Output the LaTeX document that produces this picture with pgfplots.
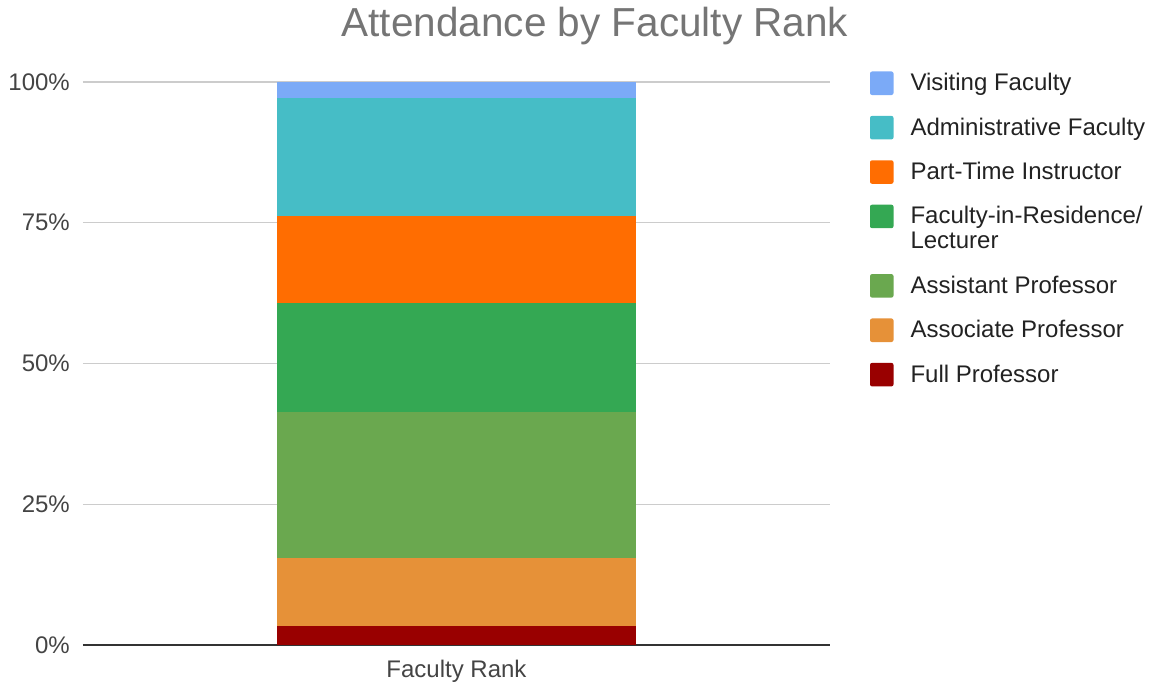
\documentclass[border=0pt]{standalone}
\usepackage{fontspec}
\setmainfont{Liberation Sans}
\usepackage{pgfplots}
\pgfplotsset{compat=1.18}
\usetikzlibrary{calc}
\definecolor{cVis}{HTML}{7BAAF7}
\definecolor{cAdm}{HTML}{46BDC6}
\definecolor{cPT}{HTML}{FF6D01}
\definecolor{cFiR}{HTML}{34A853}
\definecolor{cAsst}{HTML}{6AA84F}
\definecolor{cAssoc}{HTML}{E69138}
\definecolor{cFull}{HTML}{990000}
\definecolor{cGrid}{HTML}{CCCCCC}
\definecolor{cAxis}{HTML}{333333}
\definecolor{cTick}{HTML}{444444}
\definecolor{cLeg}{HTML}{222222}
\definecolor{cTitle}{HTML}{757575}
\begin{document}
\begin{tikzpicture}
\begin{axis}[name=ax, scale only axis, width=747bp, height=563bp,
 ybar stacked, bar width=359bp,
 xmin=-1, xmax=1, ymin=0, ymax=100,
 xtick={0}, xticklabels={Faculty Rank},
 ytick={0,25,50,75,100}, yticklabels={0\%,25\%,50\%,75\%,100\%},
 ymajorgrids, grid style={draw=cGrid, line width=1.2bp},
 axis x line*=bottom, axis y line*=left,
 x axis line style={draw=cAxis, line width=1.5bp, -},
 y axis line style={draw=none},
 major tick length=0pt,
 tick label style={font=\fontsize{24bp}{25bp}\selectfont, text=cTick},
 yticklabel style={anchor=east, inner sep=0pt, xshift=-13bp},
 xticklabel style={anchor=base, inner sep=0pt, yshift=-32bp},
 title={Attendance by Faculty Rank},
 title style={at={(0.6854,1)}, anchor=base, yshift=40bp, font=\fontsize{40.5bp}{44bp}\selectfont, text=cTitle, inner sep=0pt},
 legend cell align=left,
 reverse legend,
 legend style={at={(1.05355,1.01865)}, anchor=north west, draw=none, fill=none, inner sep=0pt, outer sep=0pt, row sep=20.9bp, column sep=17bp, font=\fontsize{24bp}{25bp}\selectfont, text=cLeg, cells={anchor=base west}, nodes={inner sep=0pt}},
 legend image code/.code={\fill[#1, rounded corners=2bp] (0bp,-4.3bp) rectangle (23.5bp,19.2bp);},
]
\addplot[fill=cFull, draw=none] coordinates {(0,3.31)};
\addlegendentry{\strut Full Professor}
\addplot[fill=cAssoc, draw=none] coordinates {(0,12.15)};
\addlegendentry{\strut Associate Professor}
\addplot[fill=cAsst, draw=none] coordinates {(0,25.97)};
\addlegendentry{\strut Assistant Professor}
\addplot[fill=cFiR, draw=none, legend image code/.code={\path[fill=none, draw=none] (0bp,-29.3bp) rectangle (23.5bp,19.2bp); \fill[cFiR, rounded corners=2bp] (0bp,-4.3bp) rectangle (23.5bp,19.2bp);}] coordinates {(0,19.34)};
\addlegendentry{\begin{tabular}[t]{@{}l@{}}Faculty-in-Residence/\\Lecturer\end{tabular}}
\addplot[fill=cPT, draw=none] coordinates {(0,15.47)};
\addlegendentry{\strut Part-Time Instructor}
\addplot[fill=cAdm, draw=none] coordinates {(0,20.99)};
\addlegendentry{\strut Administrative Faculty}
\addplot[fill=cVis, draw=none] coordinates {(0,2.77)};
\addlegendentry{\strut Visiting Faculty}
\end{axis}
\path ($(ax.south west)+(-83bp,-40bp)$) rectangle ($(ax.south west)+(1072bp,645bp)$);
\end{tikzpicture}
\end{document}
